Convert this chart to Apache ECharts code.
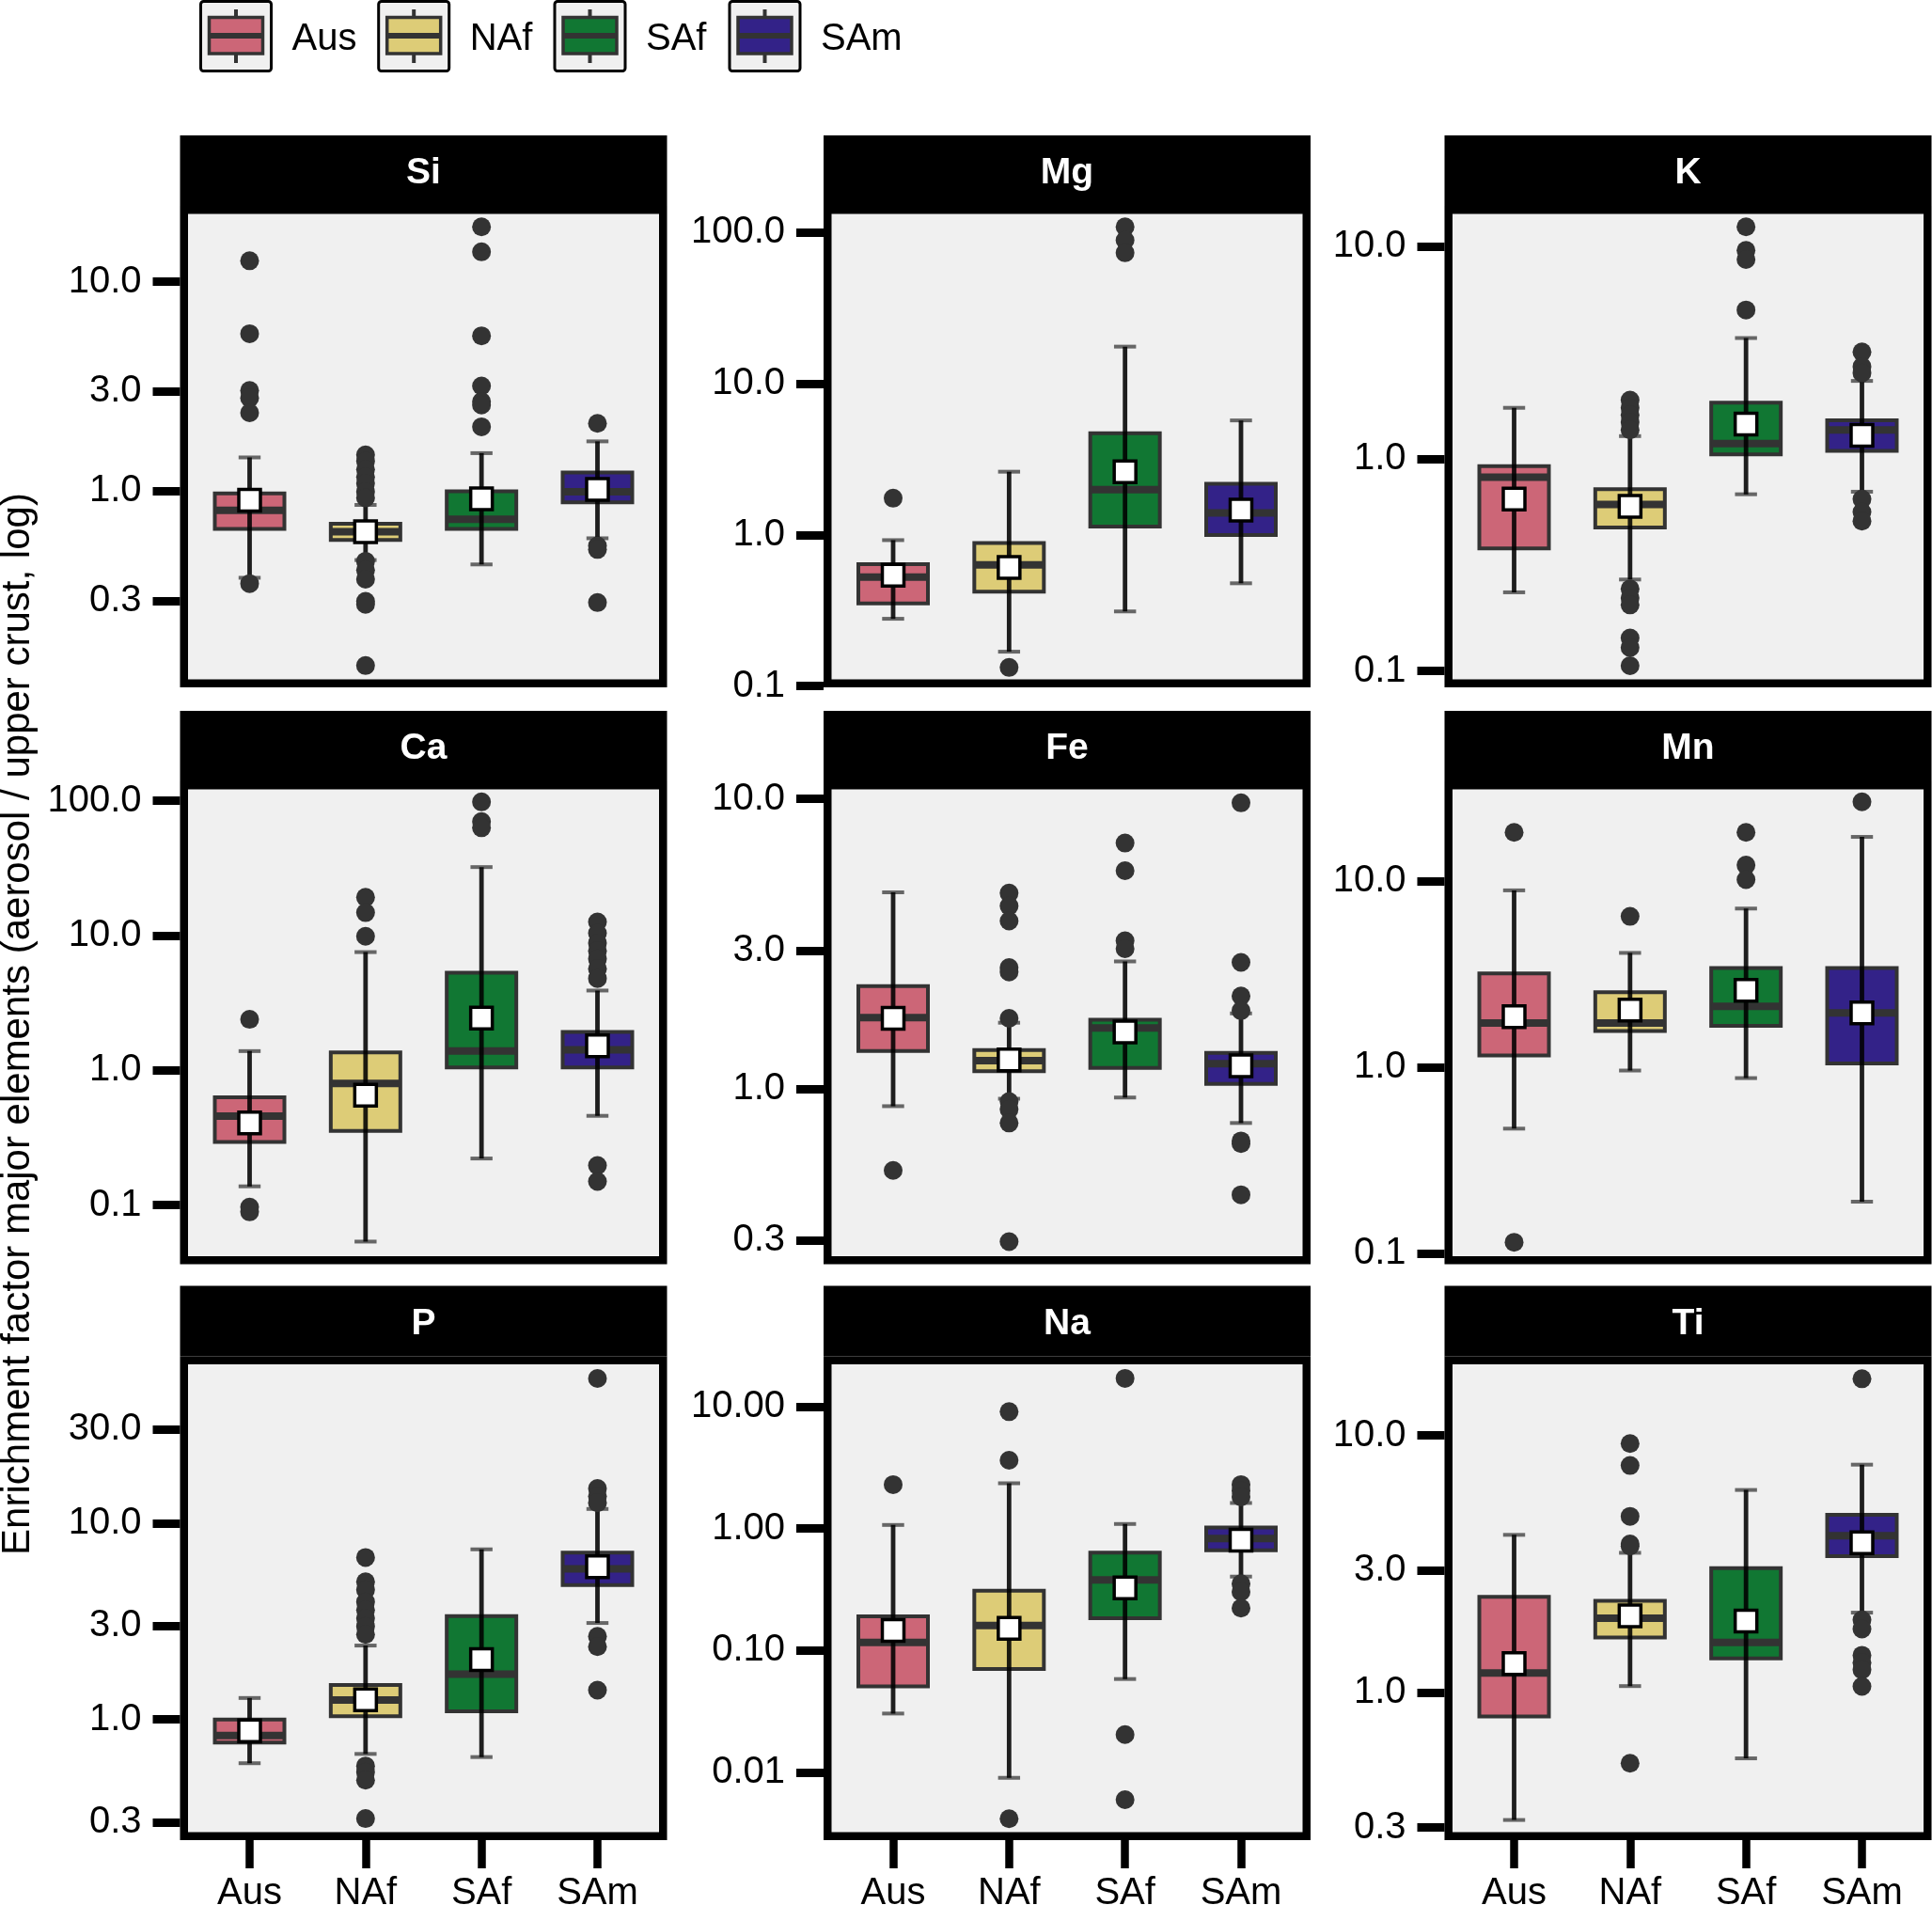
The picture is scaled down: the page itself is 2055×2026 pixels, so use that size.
<!DOCTYPE html>
<html>
<head>
<meta charset="utf-8">
<title>Enrichment factor major elements</title>
<script src="https://cdn.jsdelivr.net/npm/echarts@6/dist/echarts.min.js"></script>
<style>
  html, body { margin: 0; padding: 0; background: #ffffff; }
  #chart { width: 2055px; height: 2026px; }
</style>
</head>
<body>
<div id="chart"></div>
<script>
const regions = ["Aus", "NAf", "SAf", "SAm"];
const elements = ["Si", "Mg", "K", "Ca", "Fe", "Mn", "P", "Na", "Ti"];

// per region: [lower whisker, Q1, median, Q3, upper whisker]
const siBox = [[0.386, 0.66, 0.81, 0.976, 1.45], [0.469, 0.585, 0.641, 0.70, 0.86], [0.447, 0.66, 0.735, 1.0, 1.52], [0.596, 0.885, 0.995, 1.23, 1.73]];
const siMean = [0.906, 0.641, 0.92, 1.02];
const siOut = [[12.6, 5.65, 3.03, 2.79, 2.37, 0.362], [1.49, 1.39, 1.27, 1.17, 1.09, 0.995, 0.93, 0.463, 0.42, 0.38, 0.298, 0.288, 0.147], [18.3, 13.9, 5.52, 3.18, 2.68, 2.58, 2.03], [2.11, 0.548, 0.527, 0.294]];

const mgBox = [[0.279, 0.352, 0.526, 0.641, 0.924], [0.169, 0.422, 0.633, 0.884, 2.62], [0.312, 1.136, 1.99, 4.71, 17.6], [0.479, 1.0, 1.40, 2.18, 5.72]];
const mgMean = [0.542, 0.609, 2.62, 1.46];
const mgOut = [[1.75], [0.133], [109, 89, 73.5], []];

const kBox = [[0.235, 0.378, 0.82, 0.923, 1.74], [0.27, 0.475, 0.609, 0.719, 1.28], [0.681, 1.05, 1.18, 1.84, 3.71], [0.70, 1.09, 1.37, 1.52, 2.33]];
const kMean = [0.646, 0.597, 1.46, 1.29];
const kOut = [[], [1.89, 1.74, 1.61, 1.49, 1.37, 0.244, 0.221, 0.205, 0.143, 0.129, 0.106], [12.4, 9.6, 8.7, 5.03], [3.19, 2.72, 2.54, 0.646, 0.562, 0.509]];

const caBox = [[0.138, 0.295, 0.457, 0.632, 1.39], [0.0537, 0.356, 0.80, 1.36, 7.54], [0.222, 1.05, 1.39, 5.30, 32.2], [0.46, 1.05, 1.42, 1.93, 3.91]];
const caMean = [0.408, 0.654, 2.44, 1.52];
const caOut = [[2.39, 0.0967, 0.0892], [19.2, 14.8, 9.87], [98, 70, 63], [12.6, 10.4, 8.8, 7.69, 6.72, 5.67, 4.80, 0.197, 0.150]];

const feBox = [[0.871, 1.35, 1.76, 2.26, 4.76], [0.924, 1.15, 1.25, 1.36, 1.69], [0.933, 1.18, 1.62, 1.73, 2.75], [0.762, 1.04, 1.22, 1.33, 1.82]];
const feMean = [1.75, 1.257, 1.57, 1.20];
const feOut = [[0.523], [4.73, 4.27, 3.79, 2.62, 2.53, 1.75, 0.904, 0.849, 0.762, 0.297], [7.04, 5.65, 3.24, 3.04], [9.69, 2.73, 2.09, 1.86, 0.661, 0.647, 0.431]];

const mnBox = [[0.469, 1.16, 1.73, 3.20, 8.93], [0.962, 1.57, 1.73, 2.53, 4.12], [0.876, 1.67, 2.13, 3.42, 7.13], [0.19, 1.05, 1.96, 3.42, 17.3]];
const mnMean = [1.87, 2.03, 2.59, 1.96];
const mnOut = [[18.3, 0.115], [6.47], [18.3, 12.2, 10.2], [26.7]];

const pBox = [[0.599, 0.764, 0.828, 1.0, 1.287], [0.668, 1.04, 1.256, 1.50, 2.38], [0.644, 1.10, 1.70, 3.36, 7.35], [3.10, 4.84, 5.85, 7.08, 11.8]];
const pMean = [0.876, 1.26, 2.02, 5.99];
const pOut = [[], [6.68, 5.02, 4.57, 3.97, 3.61, 3.28, 2.98, 2.71, 0.58, 0.54, 0.491, 0.313], [], [54.5, 15.0, 13.7, 12.7, 2.65, 2.35, 1.41]];

const naBox = [[0.0305, 0.051, 0.1165, 0.191, 1.07], [0.00907, 0.0708, 0.1605, 0.309, 2.35], [0.0585, 0.184, 0.380, 0.635, 1.09], [0.404, 0.665, 0.830, 1.02, 1.62]];
const naMean = [0.1464, 0.152, 0.327, 0.804];
const naOut = [[2.29], [9.07, 3.63, 0.00419], [17.0, 0.0205, 0.0060], [2.29, 2.04, 1.82, 0.353, 0.303, 0.223]];

const tiBox = [[0.321, 0.810, 1.195, 2.36, 4.11], [1.063, 1.64, 1.95, 2.28, 3.50], [0.557, 1.36, 1.57, 3.05, 6.14], [2.05, 3.40, 4.08, 4.92, 7.70]];
const tiMean = [1.30, 1.99, 1.90, 3.83];
const tiOut = [[], [9.30, 7.64, 4.85, 3.79, 3.72, 0.533], [], [16.6, 1.92, 1.77, 1.40, 1.31, 1.23, 1.06]];

// y tick values and labels, and axis limits (data units)
const ticks310 = [0.3, 1, 3, 10];
const ticks310Labels = ["0.3", "1.0", "3.0", "10.0"];
const ticks100 = [0.1, 1, 10, 100];
const ticks100Labels = ["0.1", "1.0", "10.0", "100.0"];
const ticks10 = [0.1, 1, 10];
const ticks10Labels = ["0.1", "1.0", "10.0"];
const ticksP = [0.3, 1, 3, 10, 30];
const ticksPLabels = ["0.3", "1.0", "3.0", "10.0", "30.0"];
const ticksNa = [0.01, 0.1, 1, 10];
const ticksNaLabels = ["0.01", "0.10", "1.00", "10.00"];

const limits = [[0.1157, 23.04], [0.0982, 150.0], [0.0838, 15.56], [0.0365, 139.2], [0.2483, 11.49], [0.0877, 34.37], [0.2432, 70.6], [0.0028, 25.76], [0.2681, 20.28]];

const panels = [
  { box: siBox, mean: siMean, out: siOut, ticks: ticks310, labels: ticks310Labels },
  { box: mgBox, mean: mgMean, out: mgOut, ticks: ticks100, labels: ticks100Labels },
  { box: kBox, mean: kMean, out: kOut, ticks: ticks10, labels: ticks10Labels },
  { box: caBox, mean: caMean, out: caOut, ticks: ticks100, labels: ticks100Labels },
  { box: feBox, mean: feMean, out: feOut, ticks: ticks310, labels: ticks310Labels },
  { box: mnBox, mean: mnMean, out: mnOut, ticks: ticks10, labels: ticks10Labels },
  { box: pBox, mean: pMean, out: pOut, ticks: ticksP, labels: ticksPLabels },
  { box: naBox, mean: naMean, out: naOut, ticks: ticksNa, labels: ticksNaLabels },
  { box: tiBox, mean: tiMean, out: tiOut, ticks: ticks310, labels: ticks310Labels }
];

const colors = ["#CC6677", "#DDCC77", "#117733", "#332288"];
const FONT = "'Liberation Sans', Arial, sans-serif";
const BOX_WIDTH = 0.6;
const CAP_WIDTH = 0.19;

// panel layout (px)
const colLeft = [191.5, 876, 1536.5];
const colWidth = 518;
const rowTop = [219, 831, 1442.5];
const rowHeight = [512, 513.5, 514.5];
const stripHeight = 75;
const border = 8.5;

const lg = Math.log10;

function renderBox(params, api) {
  const x = api.value(0);
  const cx = api.coord([x, api.value(3)])[0];
  const ys = [1, 2, 3, 4, 5].map(d => api.coord([x, api.value(d)])[1]);
  const [yLo, yQ1, yMed, yQ3, yHi] = ys;
  const half = api.size([BOX_WIDTH, 0])[0] / 2;
  const capHalf = api.size([CAP_WIDTH, 0])[0] / 2;
  return {
    type: "group",
    children: [
      { type: "line", shape: { x1: cx - capHalf, y1: yHi, x2: cx + capHalf, y2: yHi }, style: { stroke: "#666666", lineWidth: 4 } },
      { type: "line", shape: { x1: cx - capHalf, y1: yLo, x2: cx + capHalf, y2: yLo }, style: { stroke: "#666666", lineWidth: 4 } },
      { type: "rect", shape: { x: cx - half, y: yQ3, width: half * 2, height: yQ1 - yQ3 }, style: { fill: colors[params.dataIndex], stroke: "#333333", lineWidth: 4 } },
      { type: "line", shape: { x1: cx - half, y1: yMed, x2: cx + half, y2: yMed }, style: { stroke: "#333333", lineWidth: 8 } },
      { type: "line", shape: { x1: cx, y1: yHi, x2: cx, y2: yLo }, style: { stroke: "rgba(0,0,0,0.88)", lineWidth: 4.8 } }
    ]
  };
}

const grids = [], xAxes = [], yAxes = [], series = [], graphics = [];

panels.forEach((p, i) => {
  const r = Math.floor(i / 3), c = i % 3;
  const left = colLeft[c], top = rowTop[r], h = rowHeight[r];
  grids.push({ left: left, top: top, width: colWidth, height: h, show: true, backgroundColor: "#F0F0F0", borderWidth: 0, containLabel: false, outerBoundsMode: "none" });

  const bottomRow = r === 2;
  xAxes.push({
    gridIndex: i, type: "value", min: 0.4, max: 4.6, position: "bottom",
    axisLine: { show: false, onZero: false }, splitLine: { show: false },
    axisTick: { show: bottomRow, customValues: [1, 2, 3, 4], length: 30, lineStyle: { width: 8.5, color: "#000" } },
    axisLabel: { show: bottomRow, customValues: [1, 2, 3, 4], formatter: v => regions[Math.round(v) - 1], fontSize: 40, margin: 37, color: "#000", fontFamily: FONT }
  });

  const tickLogs = p.ticks.map(lg);
  yAxes.push({
    gridIndex: i, type: "value", min: lg(limits[i][0]), max: lg(limits[i][1]), position: "left",
    axisLine: { show: false, onZero: false }, splitLine: { show: false },
    axisTick: { show: true, customValues: tickLogs, length: 29, lineStyle: { width: 9, color: "#000" } },
    axisLabel: {
      customValues: tickLogs, fontSize: 40, margin: 41, color: "#000", fontFamily: FONT,
      formatter: v => {
        const k = tickLogs.findIndex(t => Math.abs(t - v) < 1e-6);
        return k >= 0 ? p.labels[k] : "";
      }
    }
  });

  series.push({
    type: "custom", xAxisIndex: i, yAxisIndex: i, z: 2,
    renderItem: renderBox,
    data: p.box.map((b, k) => [k + 1].concat(b.map(lg)))
  });

  const outPts = [];
  p.out.forEach((list, k) => list.forEach(v => outPts.push([k + 1, lg(v)])));
  series.push({
    type: "scatter", xAxisIndex: i, yAxisIndex: i, z: 3,
    symbol: "circle", symbolSize: 20,
    itemStyle: { color: "#333333", opacity: 1 },
    data: outPts
  });

  series.push({
    type: "scatter", xAxisIndex: i, yAxisIndex: i, z: 4,
    symbol: "rect", symbolSize: 23,
    itemStyle: { color: "#ffffff", borderColor: "#000000", borderWidth: 3.5, opacity: 1 },
    data: p.mean.map((m, k) => [k + 1, lg(m)])
  });

  // strip and panel border
  graphics.push({ type: "rect", z: 100, shape: { x: left, y: top - stripHeight, width: colWidth, height: stripHeight }, style: { fill: "#000" } });
  graphics.push({ type: "text", z: 101, x: left + colWidth / 2, y: top - stripHeight / 2 + 3, style: { text: elements[i], fill: "#fff", fontSize: 39, fontWeight: "bold", fontFamily: FONT, align: "center", verticalAlign: "middle" } });
  graphics.push({ type: "rect", z: 100, shape: { x: left + border / 2, y: top + border / 2, width: colWidth - border, height: h - border }, style: { fill: "none", stroke: "#000", lineWidth: border } });
});

// legend
const keyX = [213.5, 402.7, 590, 776];
regions.forEach((name, k) => {
  const x0 = keyX[k];
  graphics.push({ type: "rect", z: 100, shape: { x: x0, y: 1.5, width: 75, height: 74, r: 3 }, style: { fill: "#F0F0F0", stroke: "#000", lineWidth: 3 } });
  graphics.push({ type: "line", z: 101, shape: { x1: x0 + 37.5, y1: 10, x2: x0 + 37.5, y2: 67 }, style: { stroke: "#333", lineWidth: 4 } });
  graphics.push({ type: "rect", z: 102, shape: { x: x0 + 9, y: 18.5, width: 57, height: 38.5 }, style: { fill: colors[k], stroke: "#333", lineWidth: 3.5 } });
  graphics.push({ type: "line", z: 103, shape: { x1: x0 + 9, y1: 38, x2: x0 + 66, y2: 38 }, style: { stroke: "#333", lineWidth: 6 } });
  graphics.push({ type: "text", z: 101, x: x0 + 97, y: 42, style: { text: name, fill: "#000", fontSize: 40, fontFamily: FONT, align: "left", verticalAlign: "middle" } });
});

// y axis title
graphics.push({
  type: "text", z: 101, x: 19, y: 1089, rotation: Math.PI / 2,
  style: { text: "Enrichment factor major elements (aerosol / upper crust, log)", fill: "#000", fontSize: 42, fontFamily: FONT, align: "center", verticalAlign: "middle" }
});

const chart = echarts.init(document.getElementById("chart"), null, { renderer: "canvas" });
chart.setOption({
  animation: false,
  backgroundColor: "#ffffff",
  textStyle: { fontFamily: FONT },
  grid: grids,
  xAxis: xAxes,
  yAxis: yAxes,
  series: series,
  graphic: graphics
});
</script>
</body>
</html>
